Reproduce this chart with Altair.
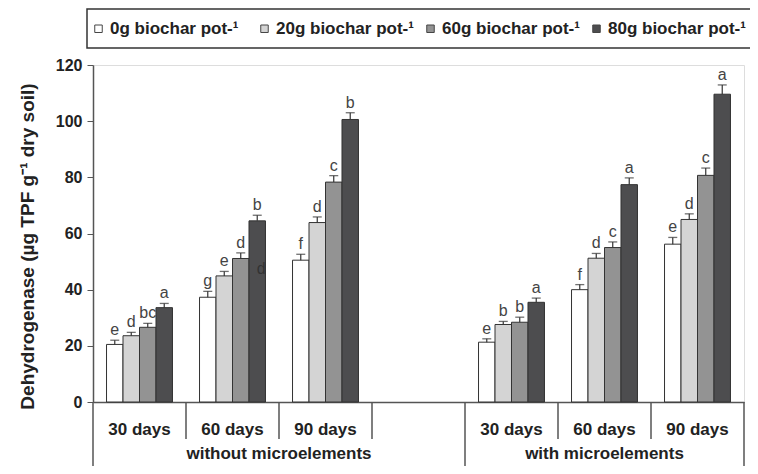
import altair as alt
import pandas as pd

slots = ["w30", "w60", "w90", "gap", "m30", "m60", "m90"]
slot_names = ["30 days", "60 days", "90 days", "", "30 days", "60 days", "90 days"]
series = ["0g biochar pot-¹", "20g biochar pot-¹", "60g biochar pot-¹", "80g biochar pot-¹"]
colors = ["#ffffff", "#d4d4d4", "#939393", "#4d4d4f"]

data_slots = ["w30", "w60", "w90", "m30", "m60", "m90"]
values = [
    [20.5, 23.6, 26.6, 33.6],
    [37.3, 44.9, 51.1, 64.5],
    [50.5, 63.9, 78.3, 100.6],
    [21.3, 27.6, 28.4, 35.5],
    [40.0, 51.2, 55.0, 77.4],
    [56.2, 65.0, 80.7, 109.6],
]
errors = [
    [1.5, 1.2, 1.4, 1.5],
    [2.1, 1.6, 2.0, 2.0],
    [2.1, 2.0, 2.3, 2.4],
    [1.2, 1.1, 1.8, 1.5],
    [1.8, 1.7, 2.0, 2.4],
    [2.4, 2.0, 2.6, 3.3],
]
letters = [
    ["e", "d", "bc", "a"],
    ["g", "e", "d", "b"],
    ["f", "d", "c", "b"],
    ["e", "b", "b", "a"],
    ["f", "d", "c", "a"],
    ["e", "d", "c", "a"],
]
group_names = ["without microelements", "with microelements"]
y_ticks = [0, 20, 40, 60, 80, 100, 120]

rows = []
for i, s in enumerate(data_slots):
    for j, ser in enumerate(series):
        rows.append({
            "slot": s, "series": ser, "value": values[i][j],
            "top": values[i][j] + errors[i][j], "letter": letters[i][j],
        })
df = pd.DataFrame(rows)

W, H = 651, 337
FONT = "Liberation Sans"

label_expr = "{" + ",".join(f"'{a}':'{b}'" for a, b in zip(slots, slot_names)) + "}[datum.value]"

x_enc = alt.X(
    "slot:N",
    scale=alt.Scale(domain=slots, paddingInner=0, paddingOuter=0),
    axis=alt.Axis(
        title=None, labelExpr=label_expr, labelAngle=0, ticks=False,
        labelPadding=19, labelFont=FONT, labelFontSize=17, labelFontWeight="bold",
        labelColor="#222", domainColor="#555", domainWidth=1.5,
    ),
)
xoff = alt.XOffset("series:N", scale=alt.Scale(domain=series, paddingInner=0, paddingOuter=0.82))
y_enc = alt.Y(
    "value:Q",
    scale=alt.Scale(domain=[0, 120], nice=False),
    axis=alt.Axis(
        values=y_ticks, grid=False, tickSize=6, tickColor="#555", domainColor="#555",
        domainWidth=1.5, labelPadding=5, labelFont=FONT, labelFontSize=16,
        labelFontWeight="bold", labelColor="#222",
        title="Dehydrogenase (µg TPF g⁻¹ dry soil)", titleFont=FONT, titleFontSize=19,
        titleFontWeight="bold", titleColor="#222", titleX=-66, titleY=181,
        titleBaseline="middle", titleAngle=270,
    ),
)

base = alt.Chart(df)

bars = base.mark_bar(stroke="#333", strokeWidth=1).encode(
    x=x_enc, xOffset=xoff, y=y_enc,
    color=alt.Color(
        "series:N", scale=alt.Scale(domain=series, range=colors),
        legend=alt.Legend(
            title=None, orient="none", legendX=-3, legendY=-45, direction="horizontal",
            padding=0, gridAlign="all", columnPadding=8,
            symbolType="square", symbolSize=56, symbolStrokeColor="#444", symbolStrokeWidth=1,
            labelFont=FONT, labelFontSize=17, labelFontWeight="bold", labelColor="#222",
            labelOffset=3, labelLimit=300,
        ),
    ),
)

legend_box = alt.Chart(pd.DataFrame({"k": [0]})).mark_rect(
    fill="transparent", stroke="#333", strokeWidth=1.5
).encode(x=alt.value(-6), x2=alt.value(W + 14), y=alt.value(-56), y2=alt.value(-17))

err_rule = base.mark_rule(color="#333", strokeWidth=1.2).encode(
    x="slot:N", xOffset="series:N", y="value:Q", y2="top:Q"
)
err_cap = base.mark_tick(color="#333", size=9, thickness=1.3).encode(
    x="slot:N", xOffset="series:N", y="top:Q"
)
letter_text = base.mark_text(
    baseline="alphabetic", dy=-5, font=FONT, fontSize=16, color="#444"
).encode(x="slot:N", xOffset="series:N", y="top:Q", text="letter:N")

stray = alt.Chart(pd.DataFrame({"slot": ["w60"], "series": [series[3]], "value": [47.5], "t": ["d"]})).mark_text(
    font=FONT, fontSize=16, color="#333", dx=4, baseline="middle"
).encode(x="slot:N", xOffset="series:N", y="value:Q", text="t:N")

short_div = alt.Chart(pd.DataFrame({"slot": ["w60", "w90", "gap", "m60", "m90"]})).mark_rule(
    color="#555", strokeWidth=1.5
).encode(x=alt.X("slot:N", bandPosition=0), y=alt.value(H), y2=alt.value(H + 37))

long_div = alt.Chart(pd.DataFrame({"slot": ["w30", "m30"]})).mark_rule(
    color="#555", strokeWidth=1.5
).encode(x=alt.X("slot:N", bandPosition=0), y=alt.value(H), y2=alt.value(H + 80))

end_div = alt.Chart(pd.DataFrame({"slot": ["m90"]})).mark_rule(
    color="#555", strokeWidth=1.5
).encode(x=alt.X("slot:N", bandPosition=1), y=alt.value(H), y2=alt.value(H + 80))

groups = alt.Chart(pd.DataFrame({"slot": ["w90", "m60"], "g": group_names, "bp": [0, 0.5]}))
g1 = groups.transform_filter("datum.bp == 0").mark_text(
    font=FONT, fontSize=17, fontWeight="bold", color="#222", baseline="middle"
).encode(x=alt.X("slot:N", bandPosition=0), y=alt.value(H + 52), text="g:N")
g2 = groups.transform_filter("datum.bp == 0.5").mark_text(
    font=FONT, fontSize=17, fontWeight="bold", color="#222", baseline="middle"
).encode(x=alt.X("slot:N", bandPosition=0.5), y=alt.value(H + 52), text="g:N")

chart = alt.layer(
    legend_box, bars, err_rule, err_cap, letter_text, stray, short_div, long_div, end_div, g1, g2
).properties(
    width=W, height=H,
    autosize=alt.AutoSizeParams(type="none"),
    padding={"left": 85, "top": 57, "right": 6, "bottom": 64},
).configure_view(stroke=None).configure(background="white")

chart.save("out.html", embed_options={"renderer": "svg", "actions": False})
